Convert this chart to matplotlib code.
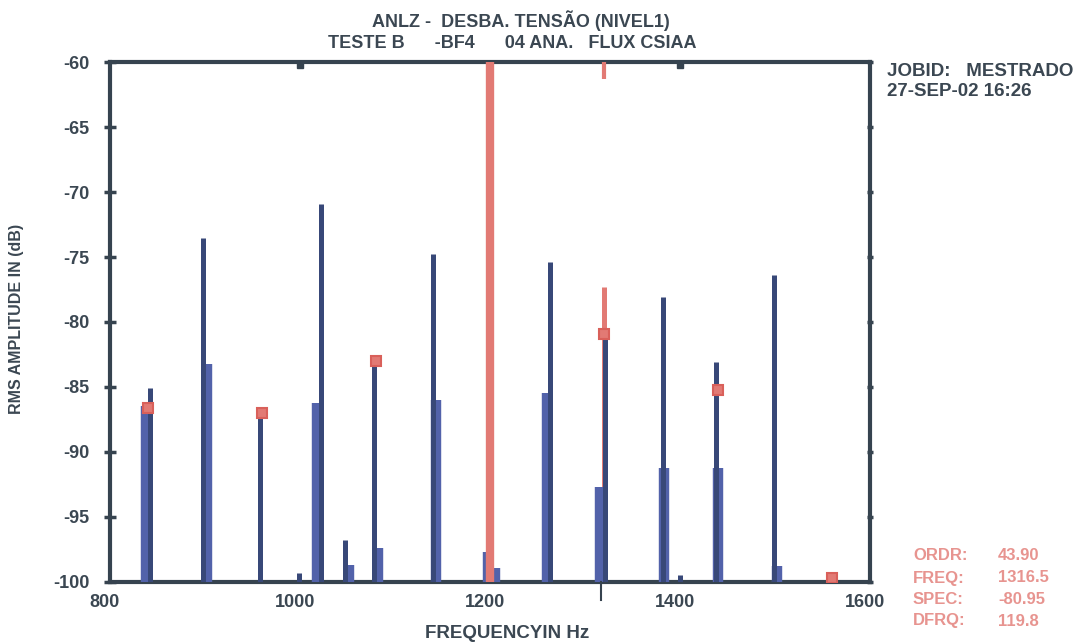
import matplotlib
matplotlib.use("Agg")
import matplotlib.pyplot as plt
from matplotlib.transforms import ScaledTranslation

plt.rcParams['font.family'] = ['Liberation Sans', 'DejaVu Sans']

# thin (dark) spectral lines
thin_freq = [842, 898, 958, 999, 1022, 1047, 1078, 1140, 1263, 1321, 1382, 1400, 1438, 1499]
thin_db = [-85.1, -73.5, -87.2, -99.3, -70.9, -96.8, -83.1, -74.8, -75.4, -80.9, -78.1, -99.5, -83.1, -76.4]

# thick (blue) spectral bars
thick_freq = [838, 902, 1018, 1052, 1082, 1143, 1198, 1205, 1260, 1316, 1383, 1440, 1502]
thick_db = [-86.5, -83.2, -86.2, -98.7, -97.4, -86.0, -97.7, -98.9, -85.5, -92.7, -91.2, -91.2, -98.8]

# red series
red_freq = [1200, 1320]
red_db = [-55.0, -77.3]

# red peak markers
mark_freq = [840, 960, 1080, 1320, 1440, 1560]
mark_db = [-86.6, -87.0, -83.0, -80.9, -85.2, -99.7]

cursor_freq = 1316.5

title_lines = ["ANLZ -  DESBA. TENSÃO (NIVEL1)", "TESTE B      -BF4      04 ANA.   FLUX CSIAA"]
info_right = ["JOBID:   MESTRADO", "27-SEP-02 16:26"]
readout_keys = ["ORDR:", "FREQ:", "SPEC:", "DFRQ:"]
readout_vals = ["43.90", "1316.5", "-80.95", "119.8"]

x_ticks = [800, 1000, 1200, 1400, 1600]
y_ticks = [-60, -65, -70, -75, -80, -85, -90, -95, -100]

dark = "#36434f"
thin_col = "#384878"
thick_col = "#5262aa"
red = "#e27a74"
txt = "#3b4752"

fig = plt.figure(figsize=(10.91, 6.42), dpi=100)
ax = fig.add_axes([0.1008, 0.0935, 0.6966, 0.8099])
ax.set_xlim(800, 1600)
ax.set_ylim(-100, -60)

ax.vlines(red_freq[1:], -100, red_db[1:], color=red, lw=3.6, zorder=2)
ax.vlines(thick_freq, -100, thick_db, color=thick_col, lw=7.5, zorder=3)
ax.vlines(thin_freq, -100, thin_db, color=thin_col, lw=3.6, zorder=4)
ax.vlines(red_freq[:1], -100, red_db[:1], color=red, lw=6.0, zorder=6)
ax.plot(mark_freq, mark_db, 's', color=red, ms=7, mec="#d9605a", mew=1.5, zorder=5)

# cursor indicators
ax.plot([cursor_freq + 4, cursor_freq + 4], [-60, -61.3], color=red, lw=3, zorder=6, solid_capstyle='butt')
ax.plot([cursor_freq, cursor_freq], [-100, -101.4], color=dark, lw=1.5, clip_on=False, zorder=6)

for s in ax.spines.values():
    s.set_color(dark)
    s.set_linewidth(3)

ax.set_xticks(x_ticks)
ax.set_yticks(y_ticks)
ax.set_xticklabels([str(v) for v in x_ticks], fontsize=13, fontweight='bold', color=txt)
ax.set_yticklabels([str(v) for v in y_ticks], fontsize=13, fontweight='bold', color=txt)
ax.tick_params(axis='y', direction='inout', length=9, width=2.5, color=dark, pad=10,
               right=True, labelright=False)
ax.tick_params(axis='x', direction='in', length=0, pad=9)
for t in ax.yaxis.get_major_ticks():
    t.tick2line.set_markersize(5)
off = ScaledTranslation(-5 / 100, 0, fig.dpi_scale_trans)
for lbl in ax.get_xticklabels():
    lbl.set_transform(lbl.get_transform() + off)

# small marks on top spine
ax.plot([1000, 1400], [-60.25, -60.25], 's', color=dark, ms=4, zorder=7)

ax.set_xlabel("FREQUENCYIN Hz", fontsize=13.5, fontweight='bold', color=txt)
ax.xaxis.set_label_coords(0.522, -0.083)
ax.set_ylabel("RMS AMPLITUDE IN (dB)", fontsize=11.5, fontweight='bold', color=txt)
ax.yaxis.set_label_coords(-0.113, 0.505)

fig.text(372 / 1091, 1 - 21 / 642, title_lines[0], ha='left', va='center', fontsize=13, fontweight='bold', color=txt)
fig.text(328 / 1091, 1 - 44 / 642, title_lines[1], ha='left', va='center', fontsize=13, fontweight='bold', color=txt)

fig.text(887 / 1091, 1 - 71 / 642, info_right[0], ha='left', va='center', fontsize=13.5, fontweight='bold', color=txt)
fig.text(887 / 1091, 1 - 92 / 642, info_right[1], ha='left', va='center', fontsize=13.5, fontweight='bold', color=txt)

ys = [556, 578, 600, 621]
for k, v, yy in zip(readout_keys, readout_vals, ys):
    fig.text(913 / 1091, 1 - yy / 642, k, ha='left', va='center', fontsize=12, fontweight='bold', color=red,
             alpha=0.8)
    fig.text(998 / 1091, 1 - yy / 642, v, ha='left', va='center', fontsize=12, fontweight='bold', color=red,
             alpha=0.8)

fig.savefig("out.png", dpi=100)
